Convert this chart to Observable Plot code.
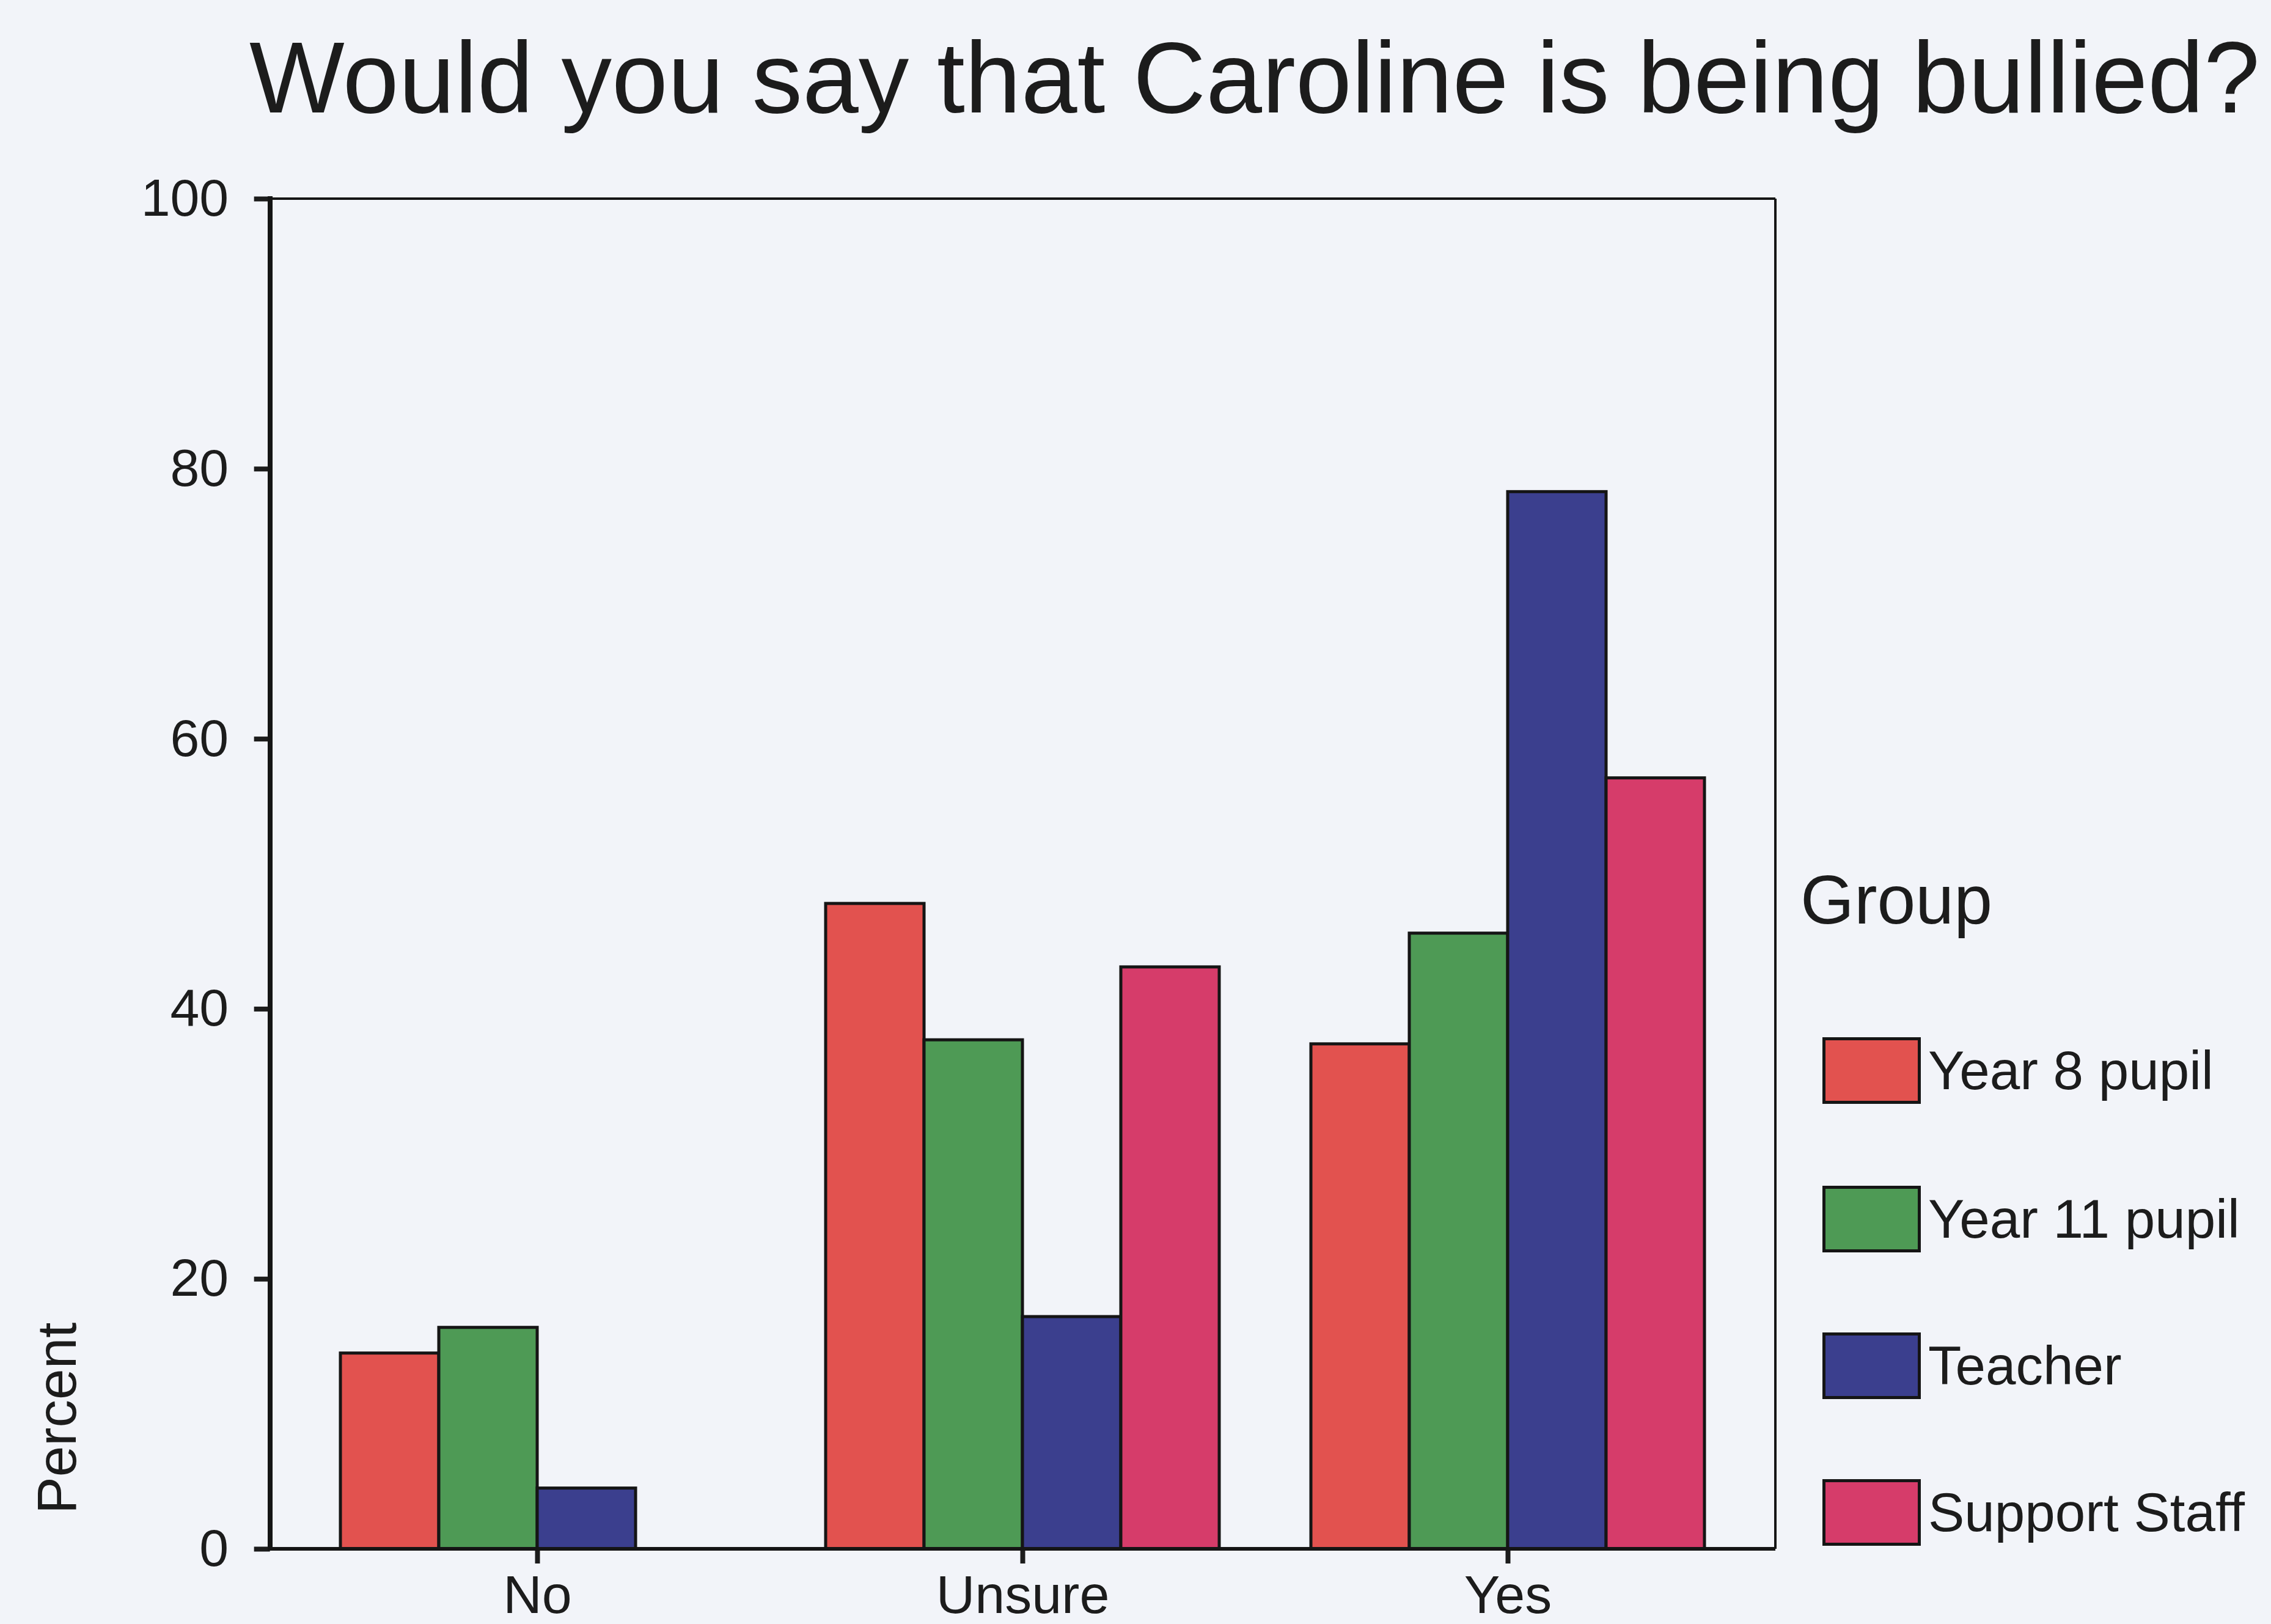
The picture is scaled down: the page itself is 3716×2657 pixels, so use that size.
<!DOCTYPE html>
<html>
<head>
<meta charset="utf-8">
<script src="https://cdn.jsdelivr.net/npm/d3@7"></script>
<script src="https://cdn.jsdelivr.net/npm/@observablehq/plot@0.6"></script>
<style>
  html, body { margin: 0; padding: 0; background: #F2F4F9; }
  body { width: 3716px; height: 2657px; position: relative; overflow: hidden;
         font-family: "Liberation Sans", Arial, sans-serif; color: #1c1c1c; }
  #chart { position: absolute; left: 0; top: 0; }
  #title { position: absolute; left: 408px; top: 45px; font-size: 165px; line-height: 1; white-space: nowrap; }
  #ylabel { position: absolute; left: 0; top: 0; font-size: 91px; line-height: 1; white-space: nowrap;
            transform-origin: 0 0; transform: translate(47px, 2477px) rotate(-90deg); }
  #legend-title { position: absolute; left: 2946px; top: 1416px; font-size: 113px; line-height: 1; white-space: nowrap; }
  .item { position: absolute; left: 2982px; height: 109px; display: flex; align-items: center; }
  .sw { width: 161px; height: 109px; box-sizing: border-box; border: 5px solid #151515; }
  .lab { margin-left: 12px; font-size: 89px; line-height: 1; white-space: nowrap; }
</style>
</head>
<body>
<div id="chart"></div>
<div id="title">Would you say that Caroline is being bullied?</div>
<div id="ylabel">Percent</div>
<div id="legend"></div>
<script>
const answers = ["No", "Unsure", "Yes"];
const groups = ["Year 8 pupil", "Year 11 pupil", "Teacher", "Support Staff"];
const year8 = [14.5, 47.8, 37.4];
const year11 = [16.4, 37.7, 45.6];
const teacher = [4.5, 17.2, 78.3];
const supportStaff = [0, 43.1, 57.1];
const colors = ["#E2524F", "#4E9A55", "#3B3F8E", "#D63C6A"];
const yTicks = [0, 20, 40, 60, 80, 100];
const legendTitle = "Group";

const series = [year8, year11, teacher, supportStaff];
const data = [];
answers.forEach((a, i) => groups.forEach((g, j) => data.push({answer: a, group: g, value: series[j][i]})));

const W = 3000, H = 2657, ML = 442, MR = 95, MT = 325, MB = 123;
const PI = 0.186, PO = 0.144;
// facet band step (layout only) so the y axis sits on the outer frame, not the first facet
const step = (W - ML - MR) / (answers.length - PI + 2 * PO);
const axisShift = -PO * step;

const plot = Plot.plot({
  width: W, height: H,
  marginLeft: ML, marginRight: MR, marginTop: MT, marginBottom: MB,
  style: {background: "transparent", color: "#1c1c1c", fontFamily: "'Liberation Sans', Arial, sans-serif", overflow: "visible"},
  fx: {domain: answers, paddingInner: PI, paddingOuter: PO, label: null},
  x: {domain: groups, padding: 0, axis: null},
  y: {domain: [0, 100], label: null},
  color: {domain: groups, range: colors},
  marks: [
    Plot.barY(data.filter(d => d.value > 0), {
      fx: "answer", x: "group", y: "value", fill: "group",
      stroke: "#151515", strokeWidth: 5
    }),
    Plot.axisY({ticks: yTicks, dx: axisShift, tickSize: 26, tickPadding: 42, strokeWidth: 8, fontSize: 86, label: null, tickFormat: d => String(d)}),
    Plot.axisFx({anchor: "bottom", tickSize: 24, tickPadding: 18, strokeWidth: 8, fontSize: 88, label: null})
  ]
});
document.getElementById("chart").appendChild(plot);

// plot-area frame: thin top/right, heavy left/bottom
const svg = d3.select(plot);
const x0 = ML, x1 = W - MR, y0 = MT, y1 = H - MB;
const g = svg.append("g").attr("fill", "none").attr("stroke", "#151515");
g.append("line").attr("x1", x0).attr("x2", x1).attr("y1", y0).attr("y2", y0).attr("stroke-width", 4);
g.append("line").attr("x1", x1).attr("x2", x1).attr("y1", y0).attr("y2", y1).attr("stroke-width", 4);
g.append("line").attr("x1", x0).attr("x2", x1).attr("y1", y1).attr("y2", y1).attr("stroke-width", 6);
g.append("line").attr("x1", x0).attr("x2", x0).attr("y1", y0 - 4).attr("y2", y1 + 3).attr("stroke-width", 8);

// legend
const legend = document.getElementById("legend");
const lt = document.createElement("div");
lt.id = "legend-title"; lt.textContent = legendTitle;
legend.appendChild(lt);
const tops = [1697, 1940, 2180, 2420];
groups.forEach((gname, i) => {
  const it = document.createElement("div");
  it.className = "item"; it.style.top = tops[i] + "px";
  const sw = document.createElement("div");
  sw.className = "sw"; sw.style.background = colors[i];
  const lab = document.createElement("div");
  lab.className = "lab"; lab.textContent = gname;
  it.appendChild(sw); it.appendChild(lab);
  legend.appendChild(it);
});
</script>
</body>
</html>
